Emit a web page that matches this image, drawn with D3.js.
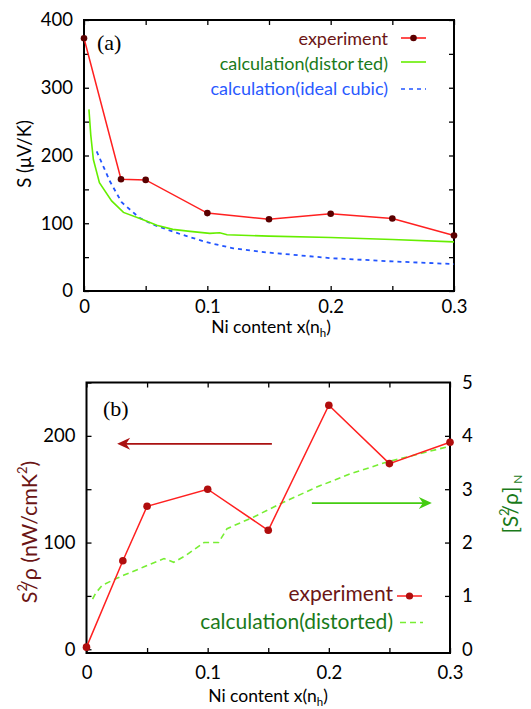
<!DOCTYPE html>
<html><head><meta charset="utf-8">
<script src="https://cdn.jsdelivr.net/npm/d3@7"></script>
<style>
body{margin:0;background:#fff;}
svg{display:block;font-family:Lato,"Noto Sans",sans-serif;}
</style></head><body>
<script>
// ---------- data: panel (a) ----------
const xExpA = [0, 0.03, 0.05, 0.1, 0.15, 0.2, 0.25, 0.3];
const sExpA = [373, 165, 164, 115, 106, 114, 107, 82];
const xDist = [0.004, 0.0055, 0.0076, 0.0125, 0.0224, 0.032, 0.048, 0.059, 0.072, 0.086, 0.102, 0.110, 0.116, 0.15, 0.2, 0.25, 0.3];
const sDist = [268, 230, 194, 160, 133, 116, 105, 97, 91, 88, 85, 86, 83, 81, 79, 76, 72.5];
const xCubic = [0.0103, 0.021, 0.0305, 0.045, 0.056, 0.078, 0.0995, 0.121, 0.148, 0.2, 0.25, 0.3];
const sCubic = [206, 162, 131, 108, 98, 84, 72, 63, 57, 48.5, 43.7, 39.7];
const yTicksA = [0, 100, 200, 300, 400];
const xTicks = [0, 0.1, 0.2, 0.3];
// ---------- data: panel (b) ----------
const xExpB = [0, 0.03, 0.05, 0.1, 0.15, 0.2, 0.25, 0.3];
const pfExpB = [2, 83, 134, 150, 111.5, 228.7, 174, 194];
const xDistB = [0.005, 0.0075, 0.013, 0.025, 0.031, 0.047, 0.064, 0.072, 0.082, 0.097, 0.109, 0.116, 0.138, 0.163, 0.19, 0.218, 0.248, 0.297];
const pfDistB = [0.94, 1.05, 1.2, 1.33, 1.39, 1.54, 1.70, 1.63, 1.76, 2.0, 2.0, 2.26, 2.48, 2.76, 3.04, 3.29, 3.51, 3.79];
const yTicksBL = [0, 100, 200];
const yTicksBR = [0, 1, 2, 3, 4, 5];
// arrows (data coords): [xFrom, xTo, value]
const arrowLeft = [0.153, 0.0253, 192.5];
const arrowRight = [0.186, 0.285, 2.74];

const W = 531, H = 709;
const FS = 18.5;
const svg = d3.select("body").append("svg").attr("width", W).attr("height", H);

const fmtX = d => d === 0 ? "0" : d3.format(".1f")(d);

function frame(g, x, yL, yR, opts) {
  const [x0, x1] = x.range();
  const [yb, yt] = yL.range();
  const xMinor = d3.range(0, 0.3001, 0.05);
  g.append("g").attr("transform", `translate(0,${yb})`)
    .call(d3.axisBottom(x).tickValues(xMinor).tickSize(-5).tickFormat(""));
  g.append("g").attr("transform", `translate(0,${yt})`)
    .call(d3.axisTop(x).tickValues(xMinor).tickSize(-5).tickFormat(""));
  g.append("g").attr("transform", `translate(${x0},0)`)
    .call(d3.axisLeft(yL).tickValues(opts.leftMinor).tickSize(-5).tickFormat(""));
  g.append("g").attr("transform", `translate(${x1},0)`)
    .call(d3.axisRight(yR).tickValues(opts.rightMinor).tickSize(-5).tickFormat(""));
  const bx = g.append("g").attr("transform", `translate(0,${yb})`)
    .call(d3.axisBottom(x).tickValues(xTicks).tickSize(0).tickPadding(opts.xPad).tickFormat(fmtX));
  const bl = g.append("g").attr("transform", `translate(${x0},0)`)
    .call(d3.axisLeft(yL).tickValues(opts.leftLabels).tickSize(0).tickPadding(11).tickFormat(d3.format("d")));
  [bx, bl].forEach(a => a.selectAll("text").attr("font-size", FS).attr("font-family", "Lato").attr("fill", "#000"));
  if (opts.rightLabels) {
    const br = g.append("g").attr("transform", `translate(${x1},0)`)
      .call(d3.axisRight(yR).tickValues(opts.rightLabels).tickSize(0).tickPadding(12).tickFormat(d3.format("d")));
    br.selectAll("text").attr("font-size", FS).attr("font-family", "Lato").attr("fill", "#000");
  }
  g.selectAll(".domain").remove();
  g.selectAll(".tick line").attr("stroke", "#000").attr("stroke-width", 1.3);
  g.append("rect").attr("x", x0).attr("y", yt).attr("width", x1 - x0).attr("height", yb - yt)
    .attr("fill", "none").attr("stroke", "#000").attr("stroke-width", 2);
}

// ================= panel (a) =================
const xA = d3.scaleLinear().domain([0, 0.3]).range([84, 454]);
const yA = d3.scaleLinear().domain([0, 400]).range([291, 20]);
const gA = svg.append("g");
frame(gA, xA, yA, yA, {leftMinor: d3.range(0, 401, 50), rightMinor: d3.range(0, 401, 50), leftLabels: yTicksA, xPad: 9});

const line = (xs, ys, X, Y) => d3.line().x((d, i) => X(xs[i])).y(d => Y(d))(ys);
gA.append("path").attr("d", line(xCubic, sCubic, xA, yA)).attr("fill", "none")
  .attr("stroke", "#2255ff").attr("stroke-width", 1.8).attr("stroke-dasharray", "4,4");
gA.append("path").attr("d", line(xDist, sDist, xA, yA)).attr("fill", "none")
  .attr("stroke", "#66ee00").attr("stroke-width", 1.6);
gA.append("path").attr("d", line(xExpA, sExpA, xA, yA)).attr("fill", "none")
  .attr("stroke", "#ff2020").attr("stroke-width", 1.5);
gA.selectAll("circle.e").data(sExpA).join("circle").attr("cx", (d, i) => xA(xExpA[i])).attr("cy", d => yA(d))
  .attr("r", 3.3).attr("fill", "#5a0000");

gA.append("text").attr("x", 97).attr("y", 50).attr("font-family", "Liberation Serif, serif").attr("font-size", 22).text("(a)");

// legend (a)
const legA = [
  {t: ["calculation(distor", "ted)"], c: "#1a7a1a", y: 69.5, sy: 62, st: "#66ee00", dash: null},
  {t: ["experiment"], c: "#6b1515", y: 45, sy: 38, st: "#ff2020", dash: null, m: true},
  {t: ["calculation(ideal cubic)"], c: "#2a5aff", y: 95, sy: 89, st: "#2255ff", dash: "4,4"}
];
legA.forEach(l => {
  const t = gA.append("text").attr("x", 388).attr("y", l.y).attr("text-anchor", "end").attr("font-size", 18)
    .attr("fill", l.c);
  t.append("tspan").text(l.t[0]);
  if (l.t[1]) t.append("tspan").attr("dx", 3).text(l.t[1]);
  gA.append("line").attr("x1", 401).attr("x2", 426).attr("y1", l.sy).attr("y2", l.sy)
    .attr("stroke", l.st).attr("stroke-width", 1.6).attr("stroke-dasharray", l.dash);
  if (l.m) gA.append("circle").attr("cx", 413.5).attr("cy", l.sy).attr("r", 3.3).attr("fill", "#5a0000");
});

// axis titles (a)
gA.append("text").attr("transform", "translate(31,154) rotate(-90)").attr("text-anchor", "middle")
  .attr("font-size", FS).attr("fill", "#000").text("S (μV/K)");
const tA = gA.append("text").attr("x", 271).attr("y", 333).attr("text-anchor", "middle").attr("font-size", 17.5);
tA.append("tspan").text("Ni content x(n");
tA.append("tspan").attr("font-size", 11.5).attr("dy", 4).text("h");
tA.append("tspan").attr("dy", -4).text(")");

// ================= panel (b) =================
const xB = d3.scaleLinear().domain([0, 0.3]).range([86.5, 450]);
const yBL = d3.scaleLinear().domain([-3.5, 250]).range([653, 382.5]);
const yBR = d3.scaleLinear().domain([-0.07, 5]).range([653, 382.5]);
const gB = svg.append("g");
frame(gB, xB, yBL, yBR, {leftMinor: d3.range(0, 251, 50), rightMinor: d3.range(1, 5, 1), leftLabels: yTicksBL, rightLabels: yTicksBR, xPad: 13});

gB.append("path").attr("d", line(xDistB, pfDistB, xB, yBR)).attr("fill", "none")
  .attr("stroke", "#77ee33").attr("stroke-width", 1.6).attr("stroke-dasharray", "6,4");
gB.append("path").attr("d", line(xExpB, pfExpB, xB, yBL)).attr("fill", "none")
  .attr("stroke", "#ff2020").attr("stroke-width", 1.5);
gB.selectAll("circle.e").data(pfExpB).join("circle").attr("cx", (d, i) => xB(xExpB[i])).attr("cy", d => yBL(d))
  .attr("r", 3.8).attr("fill", "#b00d0d");

gB.append("text").attr("x", 103).attr("y", 416).attr("font-family", "Liberation Serif, serif").attr("font-size", 22).text("(b)");

function arrow(x1, x2, y, col) {
  const dir = Math.sign(x2 - x1);
  gB.append("line").attr("x1", x1).attr("x2", x2 - dir * 8).attr("y1", y).attr("y2", y)
    .attr("stroke", col).attr("stroke-width", 1.6);
  gB.append("path").attr("d", `M${x2},${y} L${x2 - dir * 13},${y - 6} L${x2 - dir * 9},${y} L${x2 - dir * 13},${y + 6} Z`)
    .attr("fill", col);
}
arrow(xB(arrowLeft[0]), xB(arrowLeft[1]), yBL(arrowLeft[2]), "#aa1111");
arrow(xB(arrowRight[0]), xB(arrowRight[1]), yBR(arrowRight[2]), "#44cc11");

// legend (b)
const LFS = 21;
gB.append("text").attr("x", 393).attr("y", 601).attr("text-anchor", "end").attr("font-size", LFS).attr("fill", "#6b1515").text("experiment");
gB.append("line").attr("x1", 397).attr("x2", 422).attr("y1", 596).attr("y2", 596).attr("stroke", "#ff2020").attr("stroke-width", 1.5);
gB.append("circle").attr("cx", 409.5).attr("cy", 596).attr("r", 3.6).attr("fill", "#b00d0d");
gB.append("text").attr("x", 393).attr("y", 629).attr("text-anchor", "end").attr("font-size", LFS).attr("fill", "#1a7a1a").text("calculation(distorted)");
gB.append("line").attr("x1", 400).attr("x2", 423).attr("y1", 622.5).attr("y2", 622.5).attr("stroke", "#77ee33").attr("stroke-width", 1.5).attr("stroke-dasharray", "6,4");

// axis titles (b)
const tL = gB.append("text").attr("transform", "translate(37,532) rotate(-90)").attr("text-anchor", "middle")
  .attr("font-size", 21.5).attr("fill", "#6b1515");
tL.append("tspan").text("S");
tL.append("tspan").attr("font-size", 13).attr("dy", -10).text("2");
tL.append("tspan").attr("dy", 10).attr("dx", -6).text("/ρ (nW/cmK");
tL.append("tspan").attr("font-size", 13).attr("dy", -10).text("2");
tL.append("tspan").attr("dy", 10).text(")");

const tR = gB.append("text").attr("transform", "translate(518,504) rotate(-90)").attr("text-anchor", "middle")
  .attr("font-size", 21).attr("fill", "#1a7a1a");
tR.append("tspan").text("[S");
tR.append("tspan").attr("font-size", 13).attr("dy", -9).text("2");
tR.append("tspan").attr("dy", 9).attr("dx", -6).text("/ρ]");
tR.append("tspan").attr("font-size", 12).attr("dy", 4).attr("dx", 3).text("N");

const tB = gB.append("text").attr("x", 268).attr("y", 702).attr("text-anchor", "middle").attr("font-size", 17.5);
tB.append("tspan").text("Ni content x(n");
tB.append("tspan").attr("font-size", 11.5).attr("dy", 4).text("h");
tB.append("tspan").attr("dy", -4).text(")");
</script>
</body></html>
